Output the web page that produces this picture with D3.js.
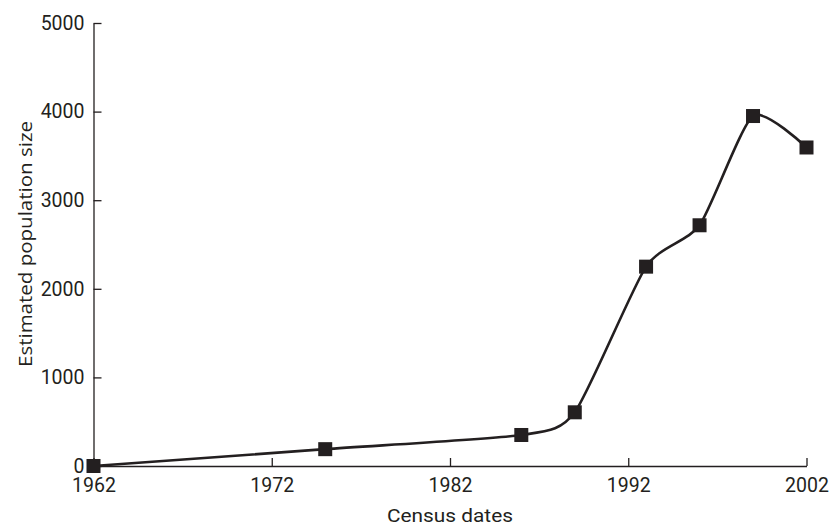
<!DOCTYPE html>
<html>
<head>
<meta charset="utf-8">
<script src="https://cdn.jsdelivr.net/npm/d3@7"></script>
<style>
  html, body { margin: 0; padding: 0; background: #fff; }
  svg { display: block; }
  .tick text { font-family: "Roboto", "Liberation Sans", sans-serif; font-weight: 400; }
</style>
</head>
<body>
<svg id="chart" width="830" height="525"></svg>
<script>
// Census years and estimated population at each census
const years = [1962, 1975, 1986, 1989, 1993, 1996, 1999, 2002];
const population = [0, 190, 350, 606, 2250, 2717, 3950, 3595];
const xTicks = [1962, 1972, 1982, 1992, 2002];
const yTicks = [0, 1000, 2000, 3000, 4000, 5000];
const xLabel = "Census dates";
const yLabel = "Estimated population size";

const ink = "#231f20";
const svg = d3.select("#chart");

const x = d3.scaleLinear().domain([1962, 2002]).range([93.5, 806.5]);
const y = d3.scaleLinear().domain([0, 5000]).range([466, 23]);

// x axis with inward ticks
const gx = svg.append("g").attr("transform", `translate(0,${y(0)})`)
  .call(d3.axisBottom(x).tickValues(xTicks).tickFormat(d3.format("d")).tickSize(-8).tickSizeOuter(0));
gx.select(".domain").attr("stroke", ink).attr("stroke-width", 1.3);
gx.selectAll(".tick line").attr("stroke", ink).attr("stroke-width", 1.3);
gx.selectAll(".tick text").attr("fill", ink).attr("font-size", 19.5)
  .attr("dy", null).attr("y", 26);

// y axis with inward ticks
const gy = svg.append("g").attr("transform", `translate(${x(1962)},0)`)
  .call(d3.axisLeft(y).tickValues(yTicks).tickFormat(d3.format("d")).tickSize(-8).tickSizeOuter(0));
gy.select(".domain").attr("stroke", ink).attr("stroke-width", 1.3);
gy.selectAll(".tick line").attr("stroke", ink).attr("stroke-width", 1.3);
gy.selectAll(".tick text").attr("fill", ink).attr("font-size", 19.5).attr("x", -9);

// axis titles
svg.append("text")
  .attr("x", 450).attr("y", 521.5)
  .attr("text-anchor", "middle")
  .attr("font-family", "Roboto, 'Liberation Sans', sans-serif")
  .attr("font-size", 18).attr("fill", ink)
  .attr("textLength", 126).attr("lengthAdjust", "spacingAndGlyphs")
  .text(xLabel);

svg.append("text")
  .attr("transform", `translate(32,244) rotate(-90)`)
  .attr("text-anchor", "middle")
  .attr("font-family", "'Open Sans', 'DejaVu Sans', sans-serif")
  .attr("font-size", 19).attr("fill", ink)
  .attr("textLength", 246).attr("lengthAdjust", "spacingAndGlyphs")
  .text(yLabel);

// smoothed population curve
const pts = years.map((yr, i) => [yr, population[i]]);
const line = d3.line()
  .x(d => x(d[0])).y(d => y(d[1]))
  .curve(d3.curveCardinal.tension(0.35));

svg.append("path")
  .datum(pts)
  .attr("d", line)
  .attr("fill", "none")
  .attr("stroke", ink)
  .attr("stroke-width", 2.6);

// square markers at each census
const s = 14;
svg.append("g").selectAll("rect")
  .data(pts)
  .join("rect")
  .attr("x", d => x(d[0]) - s / 2)
  .attr("y", d => y(d[1]) - s / 2)
  .attr("width", s).attr("height", s)
  .attr("fill", ink);
</script>
</body>
</html>
